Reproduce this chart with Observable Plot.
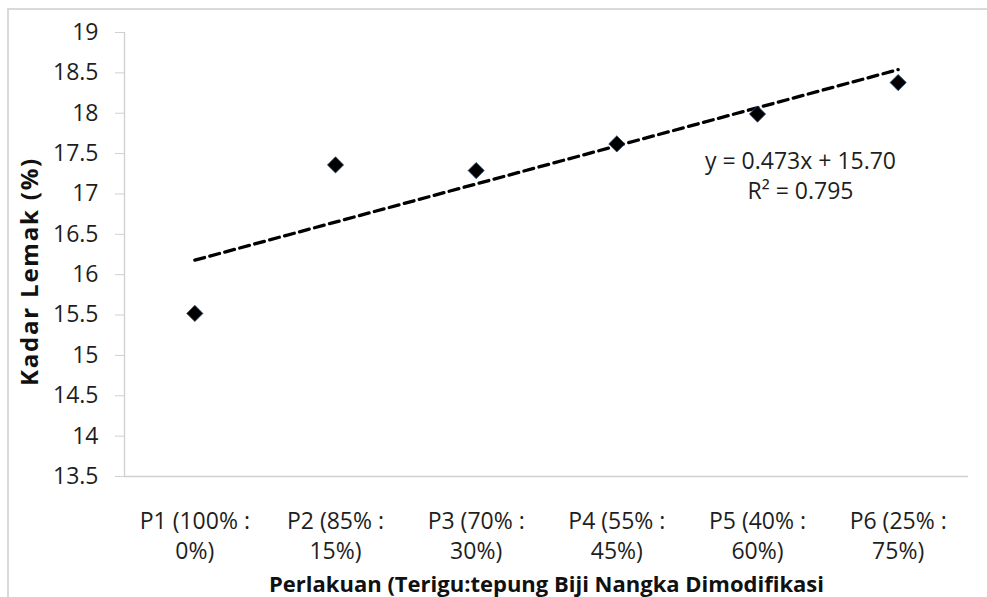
<!DOCTYPE html>
<html>
<head>
<meta charset="utf-8">
<script src="https://cdn.jsdelivr.net/npm/d3@7"></script>
<script src="https://cdn.jsdelivr.net/npm/@observablehq/plot@0.6"></script>
<style>
  html, body { margin: 0; padding: 0; background: #fff; }
  #wrap { position: relative; width: 987px; height: 597px; overflow: hidden; }
  #border { position: absolute; left: 7px; top: 8px; right: -5px; bottom: -5px;
            border-left: 2px solid #d9d9d9; border-top: 2px solid #d9d9d9; pointer-events: none; }
</style>
</head>
<body>
<div id="wrap"><div id="border"></div></div>
<script>
// Data
const categories = ["P1 (100% :\n0%)", "P2 (85% :\n15%)", "P3 (70% :\n30%)", "P4 (55% :\n45%)", "P5 (40% :\n60%)", "P6 (25% :\n75%)"];
const positions = [1, 2, 3, 4, 5, 6];
const kadarLemak = [15.52, 17.36, 17.29, 17.62, 17.99, 18.38];
const yTicks = [13.5, 14, 14.5, 15, 15.5, 16, 16.5, 17, 17.5, 18, 18.5, 19];
const xDomain = [0.5, 6.5];
const yDomain = [13.5, 19];
const yTitle = "Kadar Lemak (%)";
const xTitle = "Perlakuan (Terigu:tepung Biji Nangka Dimodifikasi";
const equation = "y = 0.473x + 15.70\nR² = 0.795";

const data = positions.map((p, i) => ({x: p, y: kadarLemak[i], label: categories[i]}));

const chart = Plot.plot({
  width: 987,
  height: 597,
  marginLeft: 124,
  marginRight: 19,
  marginTop: 32,
  marginBottom: 121,
  style: {fontFamily: "'Open Sans', sans-serif", fontSize: "23px", color: "#1e1e1e", background: "transparent"},
  x: {domain: xDomain},
  y: {domain: yDomain},
  marks: [
    Plot.ruleX([xDomain[0]], {stroke: "#d0d0d0", strokeWidth: 1.3}),
    Plot.ruleY([yDomain[0]], {stroke: "#d0d0d0", strokeWidth: 1.3}),
    Plot.axisY({ticks: yTicks, tickSize: 9, tickPadding: 17, stroke: "#d0d0d0", label: null, fill: "#1e1e1e",
                tickFormat: (d) => String(d)}),
    Plot.axisX({ticks: positions, tickSize: 0, tickPadding: 31, label: null, lineHeight: 1.3,
                tickFormat: (d) => categories[d - 1], fill: "#1e1e1e"}),
    Plot.linearRegressionY(data, {x: "x", y: "y", stroke: "black", strokeWidth: 3.3, strokeDasharray: "10,5.5", ci: 0}),
    Plot.dot(data, {x: "x", y: "y", symbol: "diamond2", r: 7.3, fill: "black", stroke: "#2a4a7a", strokeWidth: 0.8}),
    Plot.text([equation], {frameAnchor: "top-right", dx: -168, dy: 142, lineAnchor: "middle", textAnchor: "middle",
               lineHeight: 1.3, fontSize: 23, fill: "#1e1e1e", text: (d) => d}),
    Plot.text([yTitle], {frameAnchor: "left", rotate: -90, dx: -94, dy: 17, textAnchor: "middle", fontWeight: "bold",
               fontSize: 24, fill: "#111", text: (d) => d}),
    Plot.text([xTitle], {frameAnchor: "bottom", dy: 115, textAnchor: "middle", fontWeight: "bold", fontSize: 22,
               fill: "#111", text: (d) => d})
  ]
});
chart.style.position = "absolute";
chart.style.left = "0";
chart.style.top = "0";
chart.querySelectorAll("text").forEach((t) => {
  if (t.textContent === yTitle) t.style.letterSpacing = "1.8px";
});
document.getElementById("wrap").appendChild(chart);
</script>
</body>
</html>
